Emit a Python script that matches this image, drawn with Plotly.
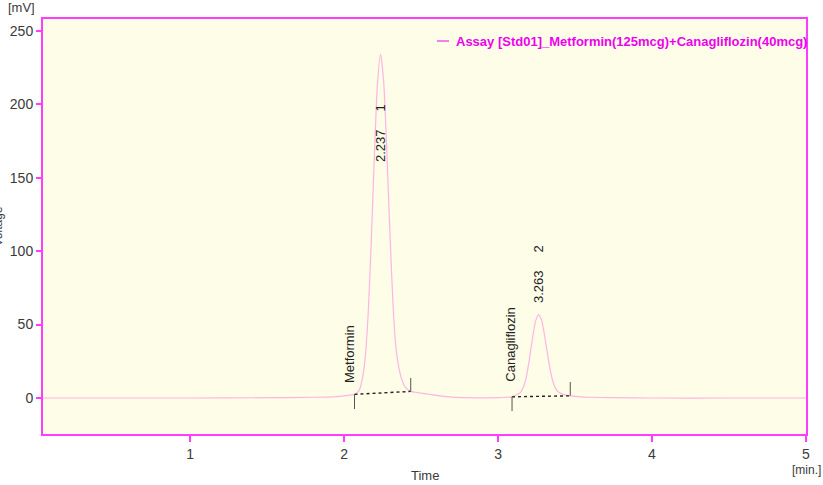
import plotly.graph_objects as go

# Chromatogram trace: retention time [min] vs detector signal [mV]
time_min = [0.04, 0.5, 1.0, 1.5, 1.8, 1.95, 2.0, 2.04, 2.07, 2.097, 2.117, 2.137,
            2.157, 2.177, 2.197, 2.217, 2.237, 2.257, 2.277, 2.297, 2.317, 2.337,
            2.357, 2.377, 2.40, 2.433, 2.47, 2.51, 2.56, 2.62, 2.70, 2.80, 2.90,
            3.0, 3.06, 3.09, 3.12, 3.143, 3.163, 3.183, 3.203, 3.223, 3.243,
            3.263, 3.283, 3.303, 3.323, 3.343, 3.363, 3.383, 3.41, 3.44, 3.469,
            3.52, 3.6, 3.75, 4.0, 4.5, 5.0]
signal_mv = [0, 0, 0, 0.2, 0.5, 1.0, 1.5, 2.0, 2.5, 5, 12, 27,
             58, 107, 165, 214, 234, 216, 170, 115, 66, 34,
             20, 12, 7, 4.5, 3.8, 3.2, 2.4, 1.5, 0.6, 0.2, 0.1,
             0.2, 0.5, 0.8, 2.2, 3.5, 7, 14, 26, 40, 52,
             56.6, 53, 42, 29, 17, 9, 5, 3, 2, 1.5,
             1.0, 0.5, 0.2, 0, 0, 0]

# Integrated peaks
peak_names = ["Metformin", "Canagliflozin"]
peak_numbers = ["1", "2"]
peak_rt = [2.237, 3.263]
rt_label_mv = [159, 63]
base_start_t = [2.068, 3.091]
base_start_mv = [2.5, 0.8]
base_end_t = [2.433, 3.469]
base_end_mv = [4.5, 1.5]
start_tick_low = [-7.5, -8.9]
end_tick_high = [13.6, 10.9]
name_label_mv = [9, 10]
name_label_t = [2.04, 3.08]

legend_text = "Assay [Std01]_Metformin(125mcg)+Canagliflozin(40mcg)"
x_ticks = [1, 2, 3, 4, 5]
y_ticks = [0, 50, 100, 150, 200, 250]

AXIS = "#ff3cff"
TXT = "#3a3a3a"
FONT = "Liberation Sans Narrow, Liberation Sans, Arial, sans-serif"
LABEL_FONT = "Liberation Sans, Arial, sans-serif"

fig = go.Figure()

fig.add_trace(go.Scatter(
    x=time_min, y=signal_mv, mode="lines",
    line=dict(color="#ffb4e4", width=1.2, shape="spline", smoothing=0.6),
    showlegend=False, hoverinfo="skip"))

# baselines (dotted) and start/end markers
for i in range(len(peak_names)):
    fig.add_trace(go.Scatter(
        x=[base_start_t[i], base_end_t[i]], y=[base_start_mv[i], base_end_mv[i]],
        mode="lines", line=dict(color="#222222", width=1.4, dash="dot"),
        showlegend=False, hoverinfo="skip"))
    fig.add_trace(go.Scatter(
        x=[base_start_t[i], base_start_t[i]], y=[base_start_mv[i], start_tick_low[i]],
        mode="lines", line=dict(color="#555555", width=1),
        showlegend=False, hoverinfo="skip"))
    fig.add_trace(go.Scatter(
        x=[base_end_t[i], base_end_t[i]], y=[base_end_mv[i], end_tick_high[i]],
        mode="lines", line=dict(color="#555555", width=1),
        showlegend=False, hoverinfo="skip"))

annotations = []
for i in range(len(peak_names)):
    annotations.append(dict(
        x=name_label_t[i], y=name_label_mv[i], xref="x", yref="y",
        text=peak_names[i], textangle=-90, showarrow=False,
        xanchor="center", yanchor="bottom",
        font=dict(family=LABEL_FONT, size=13, color="#222222")))
    annotations.append(dict(
        x=peak_rt[i], y=rt_label_mv[i], xref="x", yref="y",
        text=f"{peak_rt[i]:.3f}     {peak_numbers[i]}", textangle=-90, showarrow=False,
        xanchor="center", yanchor="bottom",
        font=dict(family=LABEL_FONT, size=13, color="#222222")))

annotations += [
    dict(x=0, y=1, xref="paper", yref="paper", xshift=-6, yshift=2,
         text="[mV]", showarrow=False, xanchor="right", yanchor="bottom",
         font=dict(family=FONT, size=13, color=TXT)),
    dict(x=1, y=0, xref="paper", yref="paper", xshift=17, yshift=-27,
         text="[min.]", showarrow=False, xanchor="right", yanchor="top",
         font=dict(family=FONT, size=12, color=TXT)),
    dict(x=0.5, y=0, xref="paper", yref="paper", yshift=-32,
         text="Time", showarrow=False, xanchor="center", yanchor="top",
         font=dict(family=FONT, size=13, color=TXT)),
    dict(x=0, y=0.5, xref="paper", yref="paper", xshift=-46,
         text="Voltage", textangle=-90, showarrow=False,
         xanchor="center", yanchor="middle",
         font=dict(family=FONT, size=12, color=TXT)),
    dict(x=1, y=1, xref="paper", yref="paper", xshift=3, yshift=-22,
         text="<b>" + legend_text + "</b>", showarrow=False,
         xanchor="right", yanchor="middle",
         font=dict(family=LABEL_FONT, size=13, color="#ee00ee")),
]

fig.add_shape(type="line", xref="paper", yref="paper",
              x0=(437 - 43) / 763, x1=(449 - 43) / 763,
              y0=1 - 22 / 415, y1=1 - 22 / 415,
              line=dict(color="#ee00ee", width=1))

fig.update_layout(
    width=823, height=485,
    margin=dict(l=43, r=17, t=19, b=51, autoexpand=False),
    paper_bgcolor="white", plot_bgcolor="#fdfde8",
    annotations=annotations,
    showlegend=False,
    xaxis=dict(range=[0.045, 5.0], tickvals=x_ticks, ticks="outside", ticklen=6,
               tickcolor=AXIS, tickwidth=1.5, showgrid=False, zeroline=False,
               showline=True, linecolor=AXIS, linewidth=2, mirror=True,
               automargin=False,
               tickfont=dict(family=FONT, size=14, color=TXT)),
    yaxis=dict(range=[-24.5, 258], tickvals=y_ticks, ticks="outside", ticklen=5,
               tickcolor=AXIS, tickwidth=1.5, showgrid=False, zeroline=False,
               showline=True, linecolor=AXIS, linewidth=2, mirror=True,
               automargin=False,
               tickfont=dict(family=FONT, size=14, color=TXT)),
)

fig.write_html("out.html")
